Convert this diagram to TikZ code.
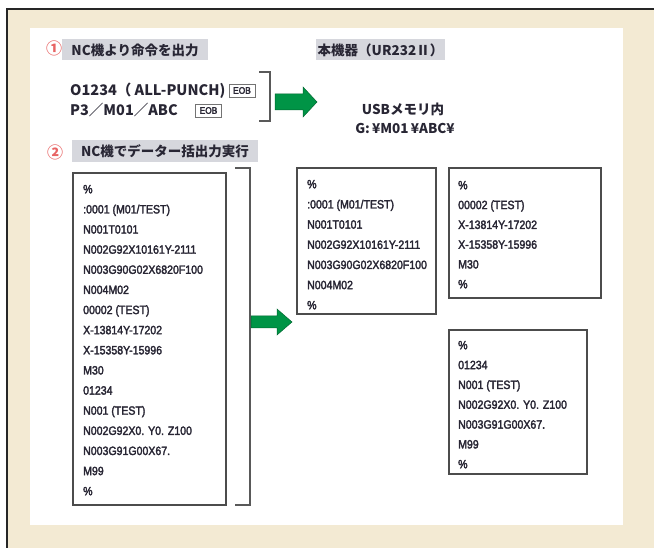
\documentclass[tikz,border=0pt]{standalone}
\usepackage{fontspec}
\setmainfont{Noto Sans CJK JP}
\newfontfamily\codefont[FakeStretch=0.88,FakeBold=2.5]{Liberation Sans}
\definecolor{paper}{RGB}{243,234,211}
\definecolor{marker}{RGB}{214,215,221}
\definecolor{arrowgreen}{RGB}{0,148,70}
\definecolor{ink}{RGB}{40,38,52}
\definecolor{circ}{RGB}{232,100,100}
\tikzset{
  heading/.style={fill=marker, inner sep=0pt, minimum height=21pt, text=ink, font=\bfseries\fontsize{13.5}{14}\selectfont},
  numcirc/.style={text=circ, inner sep=0pt, font=\bfseries\fontsize{16}{16}\selectfont},
  plaintext/.style={anchor=base west, inner sep=0pt, text=ink, font=\bfseries\fontsize{14.5}{15}\selectfont},
  codeline/.style={anchor=base west, inner sep=0pt, text=ink, font=\codefont\fontsize{12}{12}\selectfont},
  codebox/.style={draw=black!70, line width=1.2pt, fill=white},
  eobbox/.style={draw=black!55, line width=0.6pt, minimum width=26pt, minimum height=13pt, inner sep=0pt, text=ink, font=\codefont\fontsize{9.5}{9.5}\selectfont},
  bracket/.style={draw=black!65, line width=1.4pt},
  greenarrow/.style={fill=arrowgreen, draw=arrowgreen!70!black, line width=0.5pt}
}
\begin{document}
\begin{tikzpicture}[x=1pt,y=-1pt]
\useasboundingbox (0,0) rectangle (654,548);
% frame and page
\fill[paper] (7,9) rectangle (654,548);
\draw[line width=2pt, black!85] (7,548) -- (7,9) -- (654,9);
\fill[white] (30,28) rectangle (623,525);

% step 1
\node[numcirc] (n1) at (54,48) {①};
\node[heading, minimum width=146pt] (h1) at (135,50) {NC機より命令を出力};
\node[heading, minimum width=129pt] (h3) at (380.5,50) {本機器（UR232Ⅱ）};
\node[plaintext] (l1) at (70,96) {O1234（ ALL-PUNCH)};
\node[plaintext] (l2) at (70,116) {P3／M01／ABC};
\node[eobbox] (e1) at (242,90.5) {EOB};
\node[eobbox] (e2) at (208.5,110.5) {EOB};
\draw[bracket] (259,72) -- (270,72) -- (270,121) -- (259,121);
\draw[greenarrow] (275,94) -- (303,94) -- (303,87) -- (317,102) -- (303,117) -- (303,110) -- (275,110) -- cycle;
\node[text=ink, font=\bfseries\fontsize{13.5}{14}\selectfont] (usb) at (403,109) {USBメモリ内};
\node[text=ink, font=\bfseries\fontsize{13.5}{14}\selectfont] (path) at (405,128) {G:\,¥M01\,¥ABC¥};

% step 2
\node[numcirc] (n2) at (55,152) {②};
\node[heading, minimum width=186pt, minimum height=22pt] (h2) at (165,151) {NC機でデーター括出力実行};

\draw[codebox] (73,173) rectangle (226,505);
\foreach \t [count=\i from 0] in {\%, :0001 (M01/TEST), N001T0101, N002G92X10161Y-2111, N003G90G02X6820F100, N004M02, 00002 (TEST), X-13814Y-17202, X-15358Y-15996, M30, 01234, N001 (TEST), N002G92X0. Y0. Z100, N003G91G00X67., M99, \%}
  \node[codeline] (all-\i) at (83,193.3+20.13*\i) {\t};
\draw[bracket] (235,168) -- (250,168) -- (250,505) -- (235,505);
\draw[greenarrow] (251,316) -- (277,316) -- (277,309) -- (292,322) -- (277,335) -- (277,328) -- (251,328) -- cycle;

\draw[codebox] (297,168) rectangle (436,314);
\foreach \t [count=\i from 0] in {\%, :0001 (M01/TEST), N001T0101, N002G92X10161Y-2111, N003G90G02X6820F100, N004M02, \%}
  \node[codeline] (fa-\i) at (307,188.3+20.17*\i) {\t};

\draw[codebox] (449,168) rectangle (601,298);
\foreach \t [count=\i from 0] in {\%, 00002 (TEST), X-13814Y-17202, X-15358Y-15996, M30, \%}
  \node[codeline] (fb-\i) at (458,189.3+19.8*\i) {\t};

\draw[codebox] (449,330) rectangle (587,474);
\foreach \t [count=\i from 0] in {\%, 01234, N001 (TEST), N002G92X0. Y0. Z100, N003G91G00X67., M99, \%}
  \node[codeline] (fc-\i) at (458,349.3+19.83*\i) {\t};
\end{tikzpicture}
\end{document}
